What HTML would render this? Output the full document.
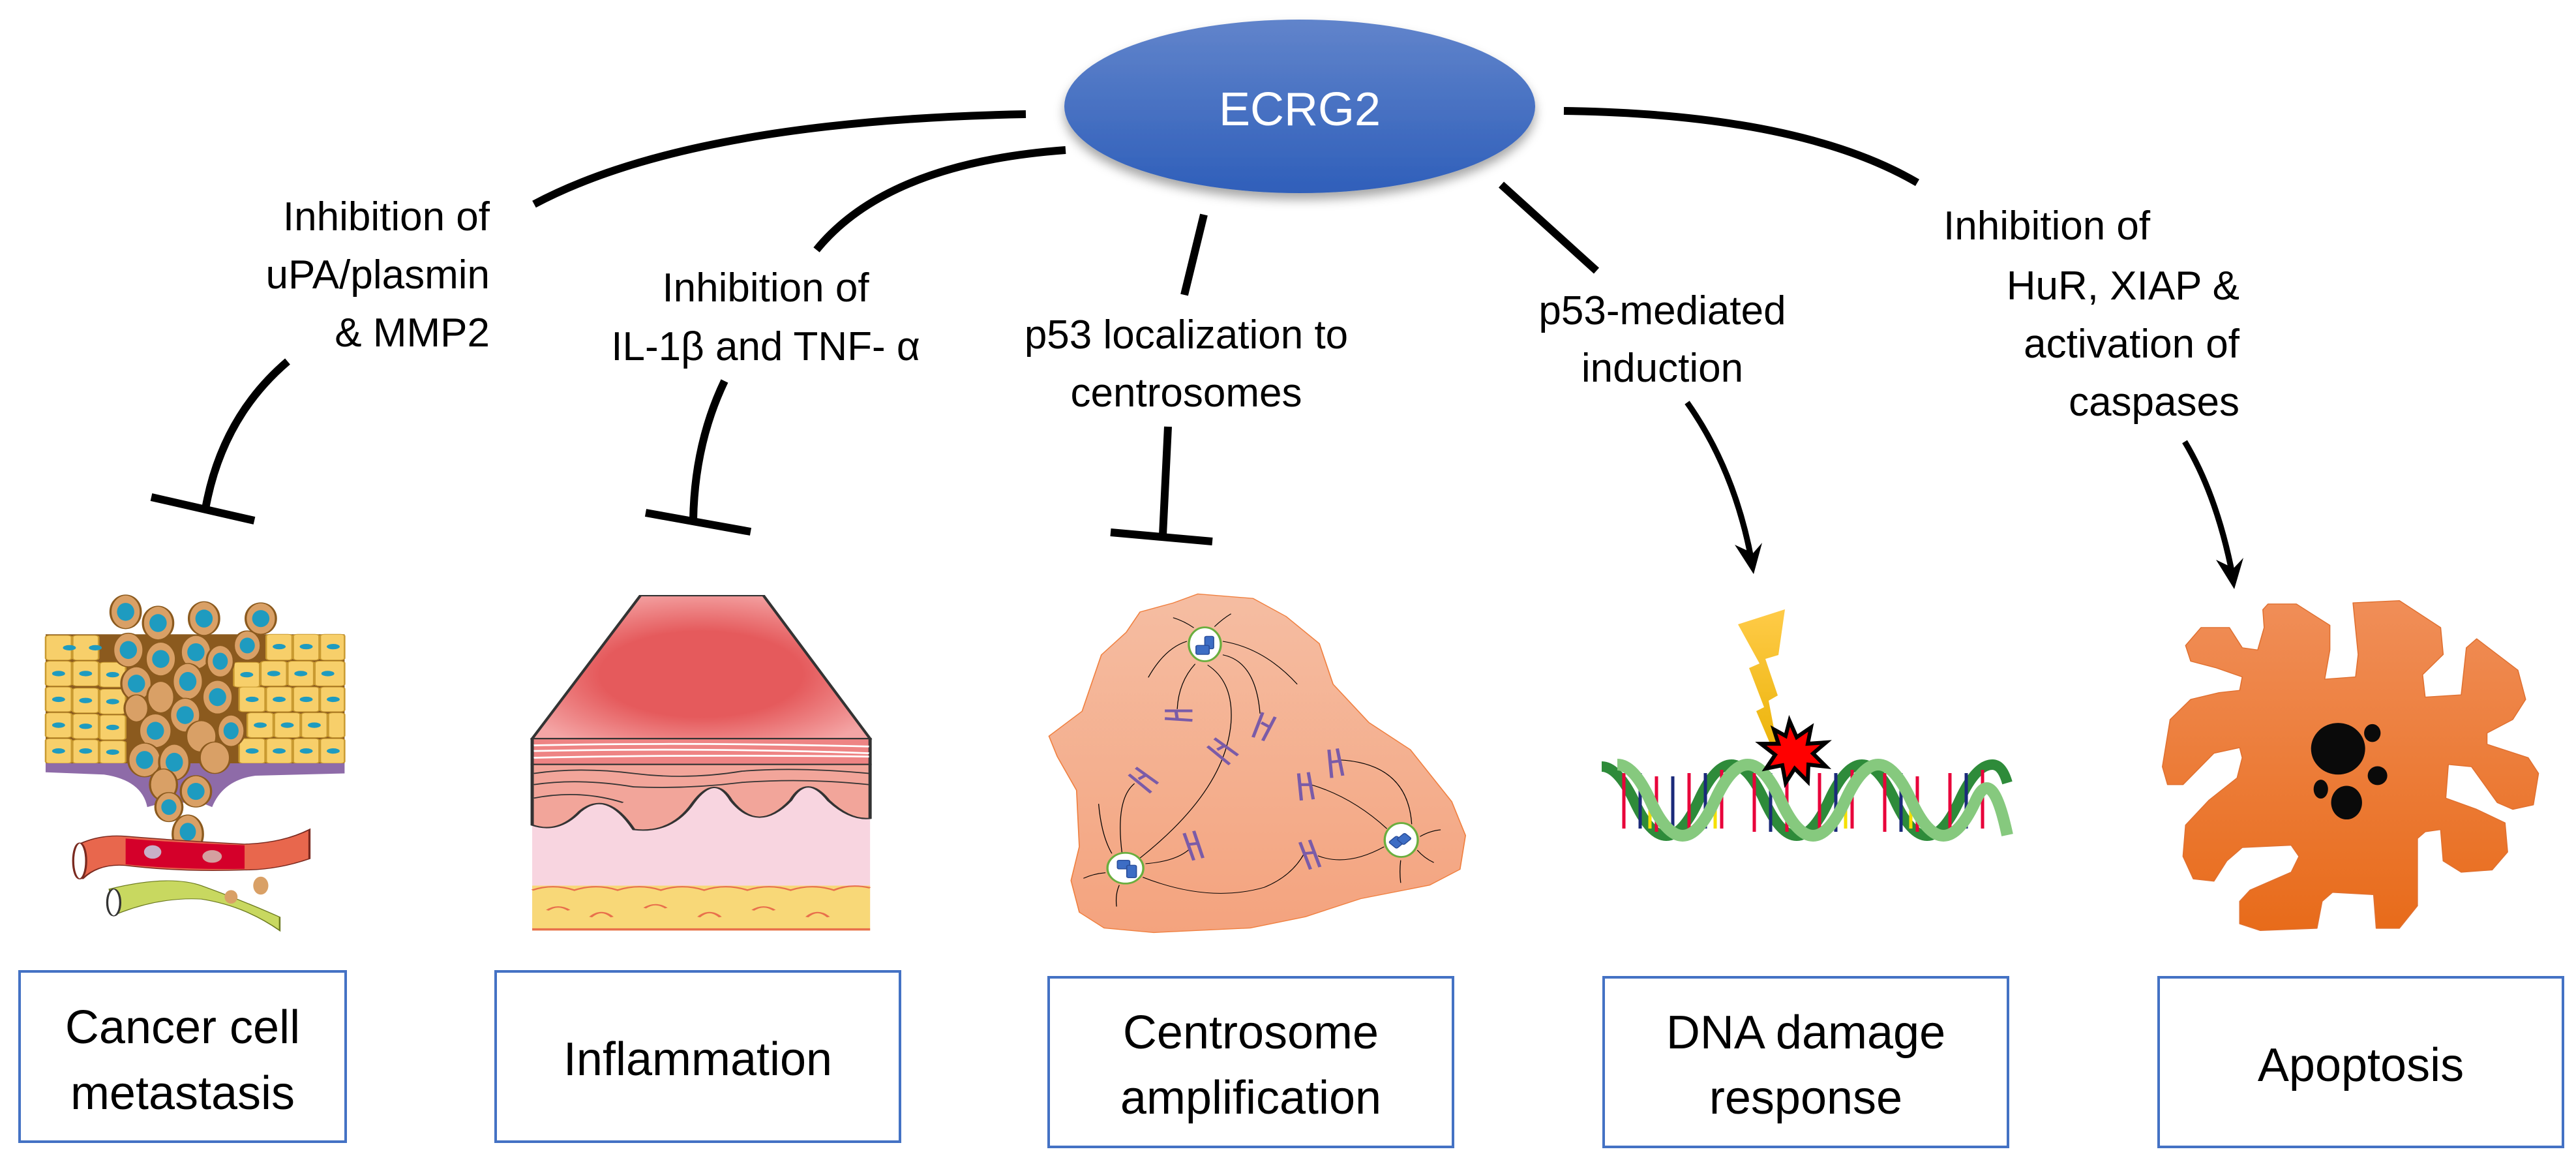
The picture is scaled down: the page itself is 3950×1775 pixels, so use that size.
<!DOCTYPE html>
<html><head><meta charset="utf-8"><style>
html,body{margin:0;padding:0;background:#fff;}
svg{display:block;}
text{font-family:"Liberation Sans",sans-serif;}
</style></head><body>
<svg width="3950" height="1775" viewBox="0 0 3950 1775" xmlns="http://www.w3.org/2000/svg">
<defs>
<linearGradient id="eg" x1="0" y1="0" x2="0" y2="1"><stop offset="0" stop-color="#6184CB"/><stop offset="1" stop-color="#2F5FBA"/></linearGradient>
<linearGradient id="og" x1="0" y1="0" x2="0" y2="1"><stop offset="0" stop-color="#F08E58"/><stop offset="1" stop-color="#E86B1A"/></linearGradient>
<linearGradient id="cg" x1="0" y1="0" x2="0" y2="1"><stop offset="0" stop-color="#F5BDA2"/><stop offset="1" stop-color="#F4A37E"/></linearGradient>
<radialGradient id="rg" cx="0.5" cy="0.55" r="0.6"><stop offset="0.5" stop-color="#E55A5C"/><stop offset="1" stop-color="#F4A5A5"/></radialGradient>
<linearGradient id="yg" x1="0" y1="0" x2="0" y2="1"><stop offset="0" stop-color="#FFCB48"/><stop offset="1" stop-color="#E8B000"/></linearGradient>
<filter id="sh" x="-10%" y="-10%" width="120%" height="130%"><feDropShadow dx="0" dy="10" stdDeviation="8" flood-color="#000" flood-opacity="0.35"/></filter>
</defs>

<!-- connectors -->
<g fill="none" stroke="#000" stroke-width="12">
<path d="M1573,175 Q1060,185 819,313"/>
<path d="M1634,230 Q1360,250 1252,383"/>
<path d="M1846,329 L1816,452"/>
<path d="M2302,283 L2448,415"/>
<path d="M2398,170 Q2760,175 2940,280"/>
<path d="M441,554 Q340,640 315,780"/>
<path d="M232,762 L390,798"/>
<path d="M1111,584 Q1065,680 1063,797"/>
<path d="M990,786 L1151,815"/>
<path d="M1791,654 L1783,820"/>
<path d="M1703,816 L1859,830"/>
<path d="M2587,617 Q2660,720 2686,860" stroke-width="9"/>
<path d="M3350,677 Q3400,760 3424,885" stroke-width="9"/>
</g>
<path d="M2660,835 L2689,880 L2702,832 L2688,848 Z" fill="#000"/>
<path d="M3398,858 L3426,903 L3440,855 L3425,871 Z" fill="#000"/>

<!-- ECRG2 -->
<ellipse cx="1993" cy="163" rx="361" ry="133" fill="url(#eg)" filter="url(#sh)"/>
<text x="1993" y="192" font-size="72" fill="#fff" text-anchor="middle">ECRG2</text>

<!-- labels -->
<g font-size="62" fill="#000">
<text x="751" y="353" text-anchor="end">Inhibition of</text>
<text x="751" y="442" text-anchor="end">uPA/plasmin</text>
<text x="751" y="531" text-anchor="end">&amp; MMP2</text>
<text x="1174" y="462" text-anchor="middle">Inhibition of</text>
<text x="1174" y="552" text-anchor="middle">IL-1β and TNF- α</text>
<text x="1819" y="534" text-anchor="middle">p53 localization to</text>
<text x="1819" y="623" text-anchor="middle">centrosomes</text>
<text x="2549" y="497" text-anchor="middle">p53-mediated</text>
<text x="2549" y="585" text-anchor="middle">induction</text>
<text x="2980" y="367">Inhibition of</text>
<text x="3434" y="459" text-anchor="end">HuR, XIAP &amp;</text>
<text x="3434" y="548" text-anchor="end">activation of</text>
<text x="3434" y="637" text-anchor="end">caspases</text>
</g>

<!-- boxes -->
<g fill="#fff" stroke="#4472C4" stroke-width="4">
<rect x="30" y="1489" width="500" height="261"/>
<rect x="760" y="1489" width="620" height="261"/>
<rect x="1608" y="1498" width="620" height="260"/>
<rect x="2459" y="1498" width="620" height="260"/>
<rect x="3310" y="1498" width="620" height="260"/>
</g>
<g font-size="72" fill="#000" text-anchor="middle">
<text x="280" y="1599">Cancer cell</text>
<text x="280" y="1700">metastasis</text>
<text x="1070" y="1648">Inflammation</text>
<text x="1918" y="1607">Centrosome</text>
<text x="1918" y="1707">amplification</text>
<text x="2769" y="1607">DNA damage</text>
<text x="2769" y="1707">response</text>
<text x="3620" y="1657">Apoptosis</text>
</g>

<!-- cancer illustration (zoom coords) -->
<g transform="translate(60,900) scale(0.829,0.344)">
<rect x="12" y="210" width="553" height="575" fill="#8B5A1E"/>
<g fill="#F7CF6A" stroke="#C99A30" stroke-width="3">
<rect x="12" y="215" width="48" height="110" rx="8"/><rect x="62" y="215" width="48" height="110" rx="8"/><rect x="420" y="210" width="48" height="115" rx="8"/><rect x="470" y="210" width="48" height="115" rx="8"/><rect x="520" y="210" width="45" height="115" rx="8"/>
<rect x="12" y="330" width="48" height="110" rx="8"/><rect x="62" y="330" width="48" height="110" rx="8"/><rect x="112" y="335" width="48" height="110" rx="8"/><rect x="360" y="335" width="48" height="110" rx="8"/><rect x="410" y="330" width="48" height="110" rx="8"/><rect x="460" y="330" width="48" height="110" rx="8"/><rect x="510" y="330" width="55" height="110" rx="8"/>
<rect x="12" y="445" width="48" height="110" rx="8"/><rect x="62" y="450" width="48" height="110" rx="8"/><rect x="112" y="455" width="48" height="110" rx="8"/><rect x="370" y="445" width="48" height="110" rx="8"/><rect x="420" y="445" width="48" height="110" rx="8"/><rect x="470" y="445" width="48" height="110" rx="8"/><rect x="520" y="445" width="45" height="110" rx="8"/>
<rect x="12" y="560" width="48" height="110" rx="8"/><rect x="62" y="565" width="48" height="110" rx="8"/><rect x="112" y="570" width="48" height="110" rx="8"/><rect x="385" y="560" width="48" height="110" rx="8"/><rect x="435" y="560" width="48" height="110" rx="8"/><rect x="485" y="560" width="48" height="110" rx="8"/><rect x="535" y="560" width="30" height="110" rx="8"/>
<rect x="12" y="675" width="48" height="110" rx="8"/><rect x="62" y="680" width="48" height="105" rx="8"/><rect x="112" y="685" width="48" height="100" rx="8"/><rect x="370" y="675" width="48" height="110" rx="8"/><rect x="420" y="675" width="48" height="110" rx="8"/><rect x="470" y="675" width="48" height="110" rx="8"/><rect x="520" y="675" width="45" height="110" rx="8"/>
</g>
<path d="M12,785 L565,785 L565,830 L400,840 Q340,860 320,980 L300,960 L230,960 L200,980 Q190,860 120,835 L12,825 Z" fill="#8E6BA8"/>
<g fill="#D9A066" stroke="#8B5A1E" stroke-width="4">
<ellipse cx="160" cy="110" rx="28" ry="75"/><ellipse cx="220" cy="160" rx="28" ry="75"/><ellipse cx="305" cy="140" rx="28" ry="75"/><ellipse cx="410" cy="140" rx="28" ry="70"/>
<ellipse cx="165" cy="280" rx="28" ry="75"/><ellipse cx="225" cy="320" rx="28" ry="75"/><ellipse cx="290" cy="290" rx="28" ry="75"/><ellipse cx="335" cy="330" rx="25" ry="70"/><ellipse cx="385" cy="260" rx="25" ry="65"/>
<ellipse cx="180" cy="430" rx="28" ry="75"/><ellipse cx="275" cy="420" rx="28" ry="80"/><ellipse cx="330" cy="490" rx="28" ry="75"/><ellipse cx="225" cy="490" rx="25" ry="70"/>
<ellipse cx="180" cy="540" rx="22" ry="60"/><ellipse cx="270" cy="570" rx="28" ry="75"/><ellipse cx="215" cy="640" rx="30" ry="75"/><ellipse cx="300" cy="665" rx="28" ry="70"/><ellipse cx="355" cy="640" rx="25" ry="70"/>
<ellipse cx="195" cy="770" rx="30" ry="75"/><ellipse cx="250" cy="780" rx="28" ry="80"/><ellipse cx="325" cy="760" rx="28" ry="70"/><ellipse cx="230" cy="880" rx="25" ry="70"/><ellipse cx="290" cy="910" rx="28" ry="70"/><ellipse cx="240" cy="980" rx="25" ry="65"/><ellipse cx="275" cy="1100" rx="28" ry="85"/>
</g>
<g fill="#1E9BC0">
<circle cx="56" cy="270" r="12"/><circle cx="104" cy="270" r="12"/><circle cx="444" cy="265" r="12"/><circle cx="494" cy="265" r="12"/><circle cx="544" cy="265" r="12"/>
<circle cx="36" cy="385" r="12"/><circle cx="86" cy="385" r="12"/><circle cx="136" cy="390" r="12"/><circle cx="384" cy="390" r="12"/><circle cx="434" cy="385" r="12"/><circle cx="484" cy="385" r="12"/><circle cx="534" cy="385" r="12"/>
<circle cx="36" cy="500" r="12"/><circle cx="86" cy="505" r="12"/><circle cx="136" cy="510" r="12"/><circle cx="394" cy="500" r="12"/><circle cx="444" cy="500" r="12"/><circle cx="494" cy="500" r="12"/><circle cx="544" cy="500" r="12"/>
<circle cx="36" cy="615" r="12"/><circle cx="86" cy="620" r="12"/><circle cx="136" cy="625" r="12"/><circle cx="409" cy="615" r="12"/><circle cx="459" cy="615" r="12"/><circle cx="509" cy="615" r="12"/>
<circle cx="36" cy="730" r="12"/><circle cx="86" cy="730" r="12"/><circle cx="136" cy="735" r="12"/><circle cx="394" cy="730" r="12"/><circle cx="444" cy="730" r="12"/><circle cx="494" cy="730" r="12"/><circle cx="544" cy="730" r="12"/>
<ellipse cx="160" cy="110" rx="16" ry="40"/><ellipse cx="220" cy="160" rx="16" ry="40"/><ellipse cx="305" cy="140" rx="16" ry="40"/><ellipse cx="410" cy="140" rx="16" ry="38"/><ellipse cx="165" cy="280" rx="16" ry="40"/><ellipse cx="225" cy="320" rx="16" ry="40"/><ellipse cx="290" cy="290" rx="16" ry="40"/><ellipse cx="335" cy="330" rx="14" ry="38"/><ellipse cx="385" cy="260" rx="14" ry="35"/><ellipse cx="180" cy="430" rx="16" ry="40"/><ellipse cx="275" cy="420" rx="16" ry="42"/><ellipse cx="330" cy="490" rx="16" ry="40"/><ellipse cx="270" cy="570" rx="16" ry="40"/><ellipse cx="215" cy="640" rx="16" ry="40"/><ellipse cx="355" cy="640" rx="14" ry="38"/><ellipse cx="195" cy="770" rx="16" ry="40"/><ellipse cx="250" cy="780" rx="16" ry="42"/><ellipse cx="290" cy="910" rx="16" ry="38"/><ellipse cx="240" cy="980" rx="14" ry="35"/><ellipse cx="275" cy="1090" rx="15" ry="40"/>
</g>
<path d="M70,1150 Q110,1100 160,1110 Q260,1130 380,1145 Q450,1140 500,1080 L500,1210 Q440,1260 380,1260 Q260,1270 160,1240 Q110,1230 80,1300 Z" fill="#E8674D" stroke="#7a2a20" stroke-width="4"/>
<path d="M160,1120 Q260,1140 380,1150 L380,1255 Q260,1260 160,1235 Z" fill="#D4002A"/>
<ellipse cx="75" cy="1220" rx="12" ry="80" fill="#fff" stroke="#7a2a20" stroke-width="4"/>
<ellipse cx="210" cy="1180" rx="16" ry="30" fill="#C8B0C8"/><ellipse cx="320" cy="1200" rx="18" ry="28" fill="#D4A0A0"/>
<path d="M130,1345 Q240,1280 300,1330 Q380,1400 445,1470 L445,1530 Q380,1420 300,1390 Q220,1380 140,1460 Z" fill="#C8D860" stroke="#6c7a20" stroke-width="3"/>
<ellipse cx="138" cy="1405" rx="12" ry="60" fill="#fff" stroke="#333" stroke-width="4"/>
<ellipse cx="410" cy="1330" rx="14" ry="40" fill="#D9A066"/><ellipse cx="355" cy="1380" rx="12" ry="30" fill="#D9A066"/>
</g>

<!-- inflammation illustration -->
<g transform="translate(60,900) scale(0.829,0.344)">
<path d="M1112,38 L1340,38 L1537,675 L912,675 Z" fill="url(#rg)" stroke="#333" stroke-width="6"/>
<rect x="912" y="675" width="625" height="115" fill="#EE8484" stroke="#333" stroke-width="6"/>
<g stroke="#fff" stroke-width="8" fill="none">
<path d="M915,705 Q1200,690 1535,710"/><path d="M915,730 Q1250,715 1535,740"/><path d="M915,760 Q1200,745 1535,755"/>
</g>
<rect x="912" y="790" width="625" height="740" fill="#F8D5E0"/>
<path d="M912,790 L1537,790 L1537,1030 Q1500,1040 1460,950 Q1420,830 1390,950 Q1330,1100 1280,950 Q1250,830 1210,960 Q1170,1100 1100,1080 Q1050,900 1000,1000 Q960,1100 912,1060 Z" fill="#F2A59A" stroke="#333" stroke-width="6"/>
<g stroke="#333" stroke-width="5" fill="none">
<path d="M915,830 Q1000,800 1100,830 Q1200,860 1300,820 Q1400,800 1535,830"/>
<path d="M915,880 Q1000,850 1100,890 Q1200,900 1300,870 Q1420,850 1535,880"/>
<path d="M915,940 Q1000,900 1080,960"/>
</g>
<rect x="912" y="1330" width="625" height="200" fill="#F8D878"/>
<g fill="none" stroke="#E8704C" stroke-width="6">
<path d="M912,1350 Q950,1320 990,1350 Q1030,1320 1070,1350 Q1110,1320 1150,1350 Q1190,1320 1230,1350 Q1270,1320 1310,1350 Q1350,1320 1390,1350 Q1430,1320 1470,1350 Q1500,1320 1537,1340"/>
<path d="M940,1440 q20,-30 40,0 M1020,1470 q20,-40 40,0 M1120,1430 q20,-30 40,0 M1220,1470 q20,-40 40,0 M1320,1440 q20,-30 40,0 M1420,1470 q20,-40 40,0"/>
</g>
<rect x="912" y="1520" width="625" height="10" fill="#E8704C"/>
</g>

<!-- centrosome illustration -->
<g transform="translate(1600,900) scale(0.423,0.346)">
<path d="M560,30 L760,50 L880,130 L1000,250 L1050,430 L1180,600 L1330,720 L1480,950 L1530,1100 L1510,1250 L1400,1320 L1150,1380 L950,1460 L750,1510 L400,1530 L220,1510 L130,1440 L100,1300 L130,1150 L120,900 L50,750 L20,660 L140,550 L210,300 L300,200 L350,110 L470,70 Z" fill="url(#cg)" stroke="#F08040" stroke-width="4"/>
<g fill="none" stroke="#000" stroke-width="3">
<path d="M550,340 Q490,420 485,540"/><path d="M595,345 Q690,420 680,600 Q660,900 350,1200"/><path d="M650,300 Q770,330 785,560"/><path d="M650,240 Q800,270 920,430"/><path d="M520,240 Q440,270 380,400"/>
<path d="M330,870 Q260,940 285,1180"/><path d="M370,1225 Q480,1215 530,1160"/><path d="M360,1285 Q600,1400 800,1330 Q900,1280 945,1180"/><path d="M995,1190 Q1100,1240 1235,1150"/><path d="M970,875 Q1120,930 1245,1070"/><path d="M1070,765 Q1320,780 1335,1050"/>
<path d="M200,960 Q210,1100 248,1180"/><path d="M145,1290 Q180,1270 225,1265"/><path d="M275,1320 Q260,1360 265,1415"/><path d="M1365,1105 Q1400,1080 1440,1075"/><path d="M1355,1165 Q1380,1200 1415,1220"/><path d="M1295,1210 Q1290,1260 1295,1310"/><path d="M470,135 Q510,150 545,180"/><path d="M620,175 Q650,140 680,118"/>
</g>
<g fill="#fff" stroke="#6AAE3E" stroke-width="8">
<ellipse cx="585" cy="253" rx="58" ry="75"/><ellipse cx="297" cy="1245" rx="65" ry="68"/><ellipse cx="1297" cy="1120" rx="60" ry="75"/>
</g>
<g fill="#3D6DC4" stroke="#2A4E9A" stroke-width="4">
<rect x="585" y="218" width="32" height="55" rx="6"/><rect x="553" y="258" width="48" height="40" rx="6"/>
<rect x="268" y="1210" width="45" height="38" rx="6"/><rect x="302" y="1232" width="35" height="55" rx="6"/>
<rect x="1260" y="1110" width="40" height="40" rx="6" transform="rotate(45 1280 1130)"/><rect x="1290" y="1095" width="35" height="40" rx="6" transform="rotate(45 1307 1115)"/>
</g>
<g stroke="#7A5BA8" stroke-width="12" fill="none">
<path d="M440,548 L540,548 M440,582 L540,590 M480,545 L485,585"/>
<path d="M795,555 L760,665 M840,575 L795,680 M790,600 L820,620"/>
<path d="M620,670 L705,745 M595,705 L675,785 M630,720 L660,700"/>
<path d="M335,800 L415,870 M310,830 L390,910 M345,850 L375,830"/>
<path d="M1035,720 L1045,845 M1065,715 L1085,835 M1040,775 L1075,770"/>
<path d="M925,825 L935,945 M960,820 L978,940 M930,875 L970,875"/>
<path d="M510,1090 L545,1210 M545,1080 L578,1200 M525,1140 L560,1135"/>
<path d="M930,1130 L968,1250 M965,1120 L1002,1240 M945,1180 L985,1175"/>
</g>
</g>

<!-- DNA illustration -->
<g>
<polygon points="2665,957 2737,934 2727,1004 2707,1010 2726,1066 2712,1074 2733,1184 2693,1090 2705,1084 2682,1024 2698,1017" fill="url(#yg)"/>
<g fill="none">
<path d="M2456,1175 Q2480,1175 2505,1226 Q2530,1281 2555,1281 Q2580,1281 2605,1226 Q2630,1172 2655,1172 Q2680,1172 2705,1226 Q2730,1281 2755,1281 Q2780,1281 2805,1226 Q2830,1172 2855,1172 Q2880,1172 2905,1226 Q2930,1281 2955,1281 Q2980,1281 3005,1226 Q3030,1172 3055,1172 Q3070,1172 3078,1200" stroke="#2E8B3A" stroke-width="16"/>
<g stroke-width="5">
<path d="M2490,1185 L2490,1270 M2540,1190 L2540,1275 M2590,1185 L2590,1270 M2640,1180 L2640,1270 M2690,1185 L2690,1275 M2740,1190 L2740,1275 M2790,1185 L2790,1275 M2840,1180 L2840,1270 M2890,1185 L2890,1275 M2940,1190 L2940,1275 M2990,1185 L2990,1270 M3040,1180 L3040,1270" stroke="#E8003A"/>
<path d="M2515,1185 L2515,1270 M2565,1190 L2565,1275 M2615,1185 L2615,1270 M2715,1185 L2715,1275 M2815,1185 L2815,1275 M2915,1185 L2915,1275 M3015,1185 L3015,1270" stroke="#1B2A7A"/>
<path d="M2530,1230 L2530,1270 M2630,1230 L2630,1270 M2830,1225 L2830,1270 M2930,1225 L2930,1270" stroke="#F5E000"/>
</g>
<path d="M2480,1172 Q2505,1172 2530,1226 Q2555,1281 2580,1281 Q2605,1281 2630,1226 Q2655,1172 2680,1172 Q2705,1172 2730,1226 Q2755,1281 2780,1281 Q2805,1281 2830,1226 Q2855,1172 2880,1172 Q2905,1172 2930,1226 Q2955,1281 2980,1281 Q3005,1281 3030,1226 Q3055,1172 3078,1280" stroke="#86C97E" stroke-width="18"/>
</g>
<polygon points="2744,1105 2755,1130 2777,1115 2772,1140 2800,1138 2780,1155 2800,1175 2773,1172 2772,1198 2752,1178 2738,1200 2733,1173 2708,1178 2722,1157 2700,1140 2727,1140 2720,1118 2738,1128" fill="#FF0000" stroke="#000" stroke-width="6"/>
</g>

<!-- apoptosis illustration -->
<g transform="translate(3300,900) scale(0.395,0.344)">
<path d="M450,75 L560,75 L690,170 L690,280 L670,410 L790,400 L800,300 L780,70 L960,60 L1120,180 L1130,300 L1050,390 L1060,490 L1200,480 L1220,270 L1260,230 L1420,370 L1450,500 L1400,590 L1300,650 L1300,700 L1460,760 L1500,830 L1480,970 L1400,990 L1340,960 L1240,800 L1150,790 L1140,940 L1260,990 L1370,1050 L1380,1180 L1320,1260 L1200,1270 L1130,1220 L1120,1080 L1060,1090 L1030,1120 L1030,1420 L960,1520 L870,1520 L860,1370 L700,1360 L660,1400 L640,1520 L420,1530 L340,1500 L340,1400 L380,1350 L540,1270 L570,1200 L540,1150 L350,1160 L290,1220 L240,1310 L160,1300 L120,1200 L130,1060 L220,950 L330,850 L350,760 L340,715 L240,740 L120,880 L60,880 L40,800 L70,590 L150,500 L260,470 L340,460 L350,400 L250,360 L150,330 L130,260 L190,180 L300,180 L350,270 L410,280 L435,180 L430,100 Z" fill="url(#og)" stroke="#E07030" stroke-width="4" stroke-linejoin="round"/>
<g fill="#0a0a0a">
<ellipse cx="722" cy="720" rx="105" ry="115"/><ellipse cx="855" cy="650" rx="32" ry="40"/><ellipse cx="875" cy="840" rx="38" ry="42"/><ellipse cx="655" cy="900" rx="28" ry="42"/><ellipse cx="755" cy="960" rx="60" ry="75"/>
</g>
</g>
</svg>
</body></html>
